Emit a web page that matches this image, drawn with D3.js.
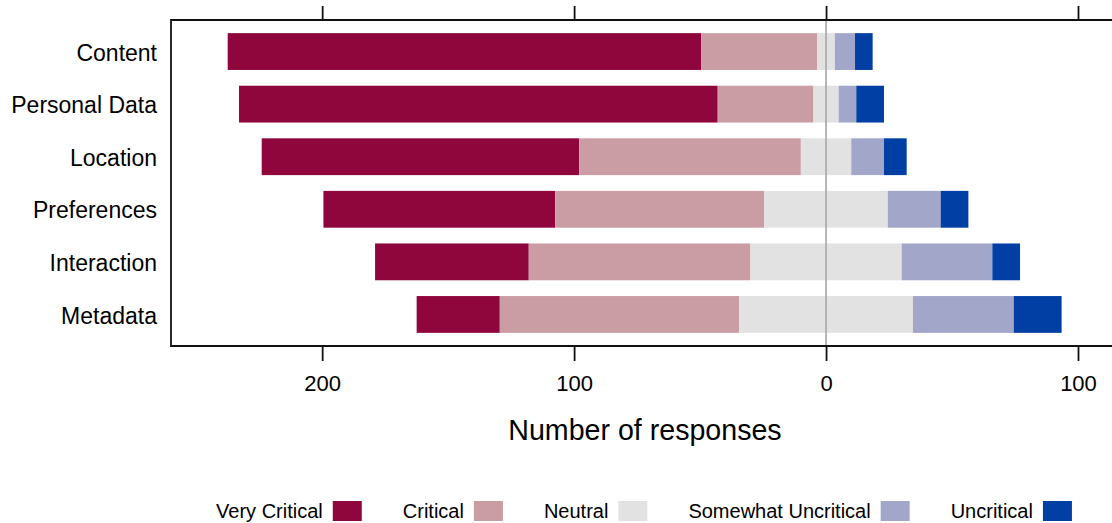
<!DOCTYPE html>
<html>
<head>
<meta charset="utf-8">
<script src="https://cdn.jsdelivr.net/npm/d3@7"></script>
<style>
  body { margin: 0; background: #fff; }
  text { font-family: "Liberation Sans", Arial, sans-serif; fill: #000; }
</style>
</head>
<body>
<script>
var width = 1112, height = 523;

// categories (top to bottom)
const topics = ["Content", "Personal Data", "Location", "Preferences", "Interaction", "Metadata"];
// response levels, from most critical to least
const levels = ["Very Critical", "Critical", "Neutral", "Somewhat Uncritical", "Uncritical"];
const colours = ["#8E063B", "#CA9CA4", "#E2E2E2", "#A2A6C8", "#023FA5"];

// counts per topic, one array per level
const veryCritical       = [188, 190, 126, 92, 61, 33];
const critical           = [46, 38, 88, 83, 88, 95];
const neutral            = [7, 10, 20, 49, 60, 69];
const somewhatUncritical = [8, 7, 13, 21, 36, 40];
const uncritical         = [7, 11, 9, 11, 11, 19];

const xTicks = [-200, -100, 0, 100];

var plot = {left: 171, right: 1112, top: 20, bottom: 346};

var svg = d3.select("body").append("svg")
  .attr("width", width)
  .attr("height", height);

var x = d3.scaleLinear()
  .domain([-260, 113.5])
  .range([plot.left, plot.right]);

var y = d3.scaleBand()
  .domain(topics)
  .range([plot.top, plot.bottom])
  .paddingInner(0.3)
  .paddingOuter(0.25);

// build segments: neutral split across zero
var series = [veryCritical, critical, neutral, somewhatUncritical, uncritical];
var segments = [];
topics.forEach(function(t, i) {
  var half = neutral[i] / 2;
  var left = -(veryCritical[i] + critical[i] + half);
  series.forEach(function(s, k) {
    segments.push({topic: t, level: k, x0: left, x1: left + s[i]});
    left += s[i];
  });
});

svg.append("g").selectAll("rect")
  .data(segments)
  .enter().append("rect")
    .attr("x", function(d) { return x(d.x0); })
    .attr("width", function(d) { return x(d.x1) - x(d.x0); })
    .attr("y", function(d) { return y(d.topic); })
    .attr("height", y.bandwidth())
    .attr("fill", function(d) { return colours[d.level]; });

// zero reference line
svg.append("line")
  .attr("x1", x(0)).attr("x2", x(0))
  .attr("y1", plot.top).attr("y2", plot.bottom)
  .attr("stroke", "#a6a6a6")
  .attr("stroke-width", 1.6);

// frame (no right side, it runs off the page)
svg.append("path")
  .attr("d", "M" + plot.right + "," + plot.top + "H" + plot.left + "V" + plot.bottom + "H" + plot.right)
  .attr("fill", "none")
  .attr("stroke", "#111")
  .attr("stroke-width", 1.8);

// ticks top and bottom
var fmt = function(d) { return Math.abs(d); };
svg.append("g")
  .attr("transform", "translate(0," + plot.top + ")")
  .call(d3.axisTop(x).tickValues(xTicks).tickSize(14).tickFormat(""))
  .call(function(g) {
    g.select(".domain").remove();
    g.selectAll("line").attr("stroke", "#111").attr("stroke-width", 1.8);
  });

svg.append("g")
  .attr("transform", "translate(0," + plot.bottom + ")")
  .call(d3.axisBottom(x).tickValues(xTicks).tickSize(15).tickPadding(14).tickFormat(fmt))
  .call(function(g) {
    g.select(".domain").remove();
    g.selectAll("line").attr("stroke", "#111").attr("stroke-width", 1.8);
    g.selectAll("text")
      .style("font-family", "'Liberation Sans', Arial, sans-serif")
      .style("font-size", "22px")
      .attr("fill", "#000");
  });

// category labels
svg.append("g").selectAll("text")
  .data(topics)
  .enter().append("text")
    .attr("x", 157)
    .attr("y", function(d) { return y(d) + y.bandwidth() / 2 + 1; })
    .attr("dy", "0.35em")
    .attr("text-anchor", "end")
    .style("font-size", "23px")
    .text(function(d) { return d; });

svg.append("text")
  .attr("x", 645)
  .attr("y", 440)
  .attr("text-anchor", "middle")
  .style("font-size", "28.6px")
  .text("Number of responses");

// legend, laid out from measured text widths
var legend = svg.append("g");
var items = legend.selectAll("g")
  .data(levels)
  .enter().append("g");

items.append("text")
  .attr("y", 511)
  .attr("dy", "0.35em")
  .style("font-size", "20px")
  .text(function(d) { return d; });

var cursor = 0, gapText = 10, box = 29, gapItem = 41;
items.each(function(d, i) {
  var g = d3.select(this);
  var w = g.select("text").node().getComputedTextLength();
  g.select("text").attr("x", cursor);
  g.append("rect")
    .attr("x", cursor + w + gapText)
    .attr("y", 501)
    .attr("width", box)
    .attr("height", 20)
    .attr("fill", colours[i]);
  cursor += w + gapText + box + gapItem;
});
var total = cursor - gapItem;
legend.attr("transform", "translate(" + (644 - total / 2) + ",0)");
</script>
</body>
</html>
